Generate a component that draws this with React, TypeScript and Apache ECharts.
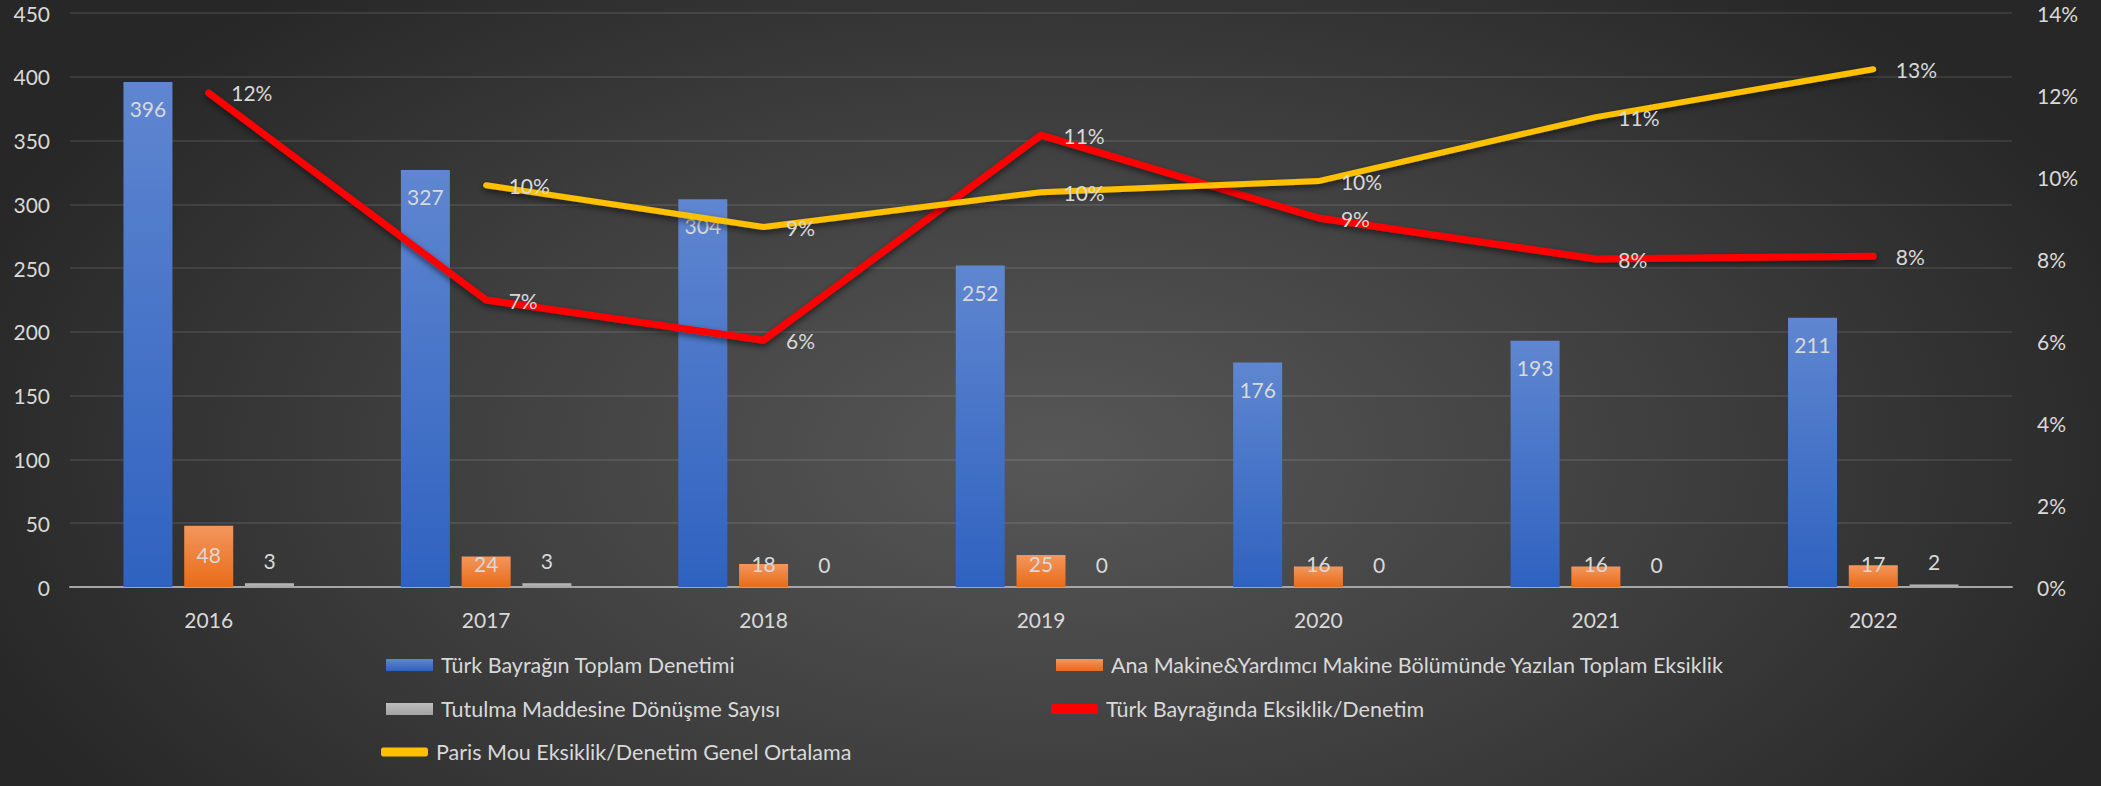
import React, { useEffect, useRef } from "react";
import * as echarts from "echarts";

const years = ["2016", "2017", "2018", "2019", "2020", "2021", "2022"];
const inspections = [396, 327, 304, 252, 176, 193, 211];
const deficiencies = [48, 24, 18, 25, 16, 16, 17];
const detentions = [3, 3, 0, 0, 0, 0, 2];
const turkRatio = [0.1205, 0.07, 0.0602, 0.1102, 0.09, 0.08, 0.0807];
const parisRatio = [null, 0.098, 0.0878, 0.0963, 0.099, 0.1146, 0.1263];
const leftTicks = { min: 0, max: 450, interval: 50 };
const rightTicks = { min: 0, max: 0.14, interval: 0.02 };

const names = [
  "Türk Bayrağın Toplam Denetimi",
  "Ana Makine&Yardımcı Makine Bölümünde Yazılan Toplam Eksiklik",
  "Tutulma Maddesine Dönüşme Sayısı",
  "Türk Bayrağında Eksiklik/Denetim",
  "Paris Mou Eksiklik/Denetim Genel Ortalama",
];

const FONT = "Lato";
const TXT = "#d9d9d9";

const vgrad = (a: string, b: string) =>
  new echarts.graphic.LinearGradient(0, 0, 0, 1, [
    { offset: 0, color: a },
    { offset: 1, color: b },
  ]);

export default function App() {
  const ref = useRef<HTMLDivElement>(null);
  useEffect(() => {
    document.body.style.margin = "0";
    const chart = echarts.init(ref.current!, null, { renderer: "svg" });
    const label = { color: TXT, fontSize: 21, fontFamily: FONT };
    const legendBase = (name: string, left: number, top: number, icon: string, h: number) => ({
      data: [name],
      left,
      top,
      icon,
      itemWidth: 47,
      itemHeight: h,
      itemGap: 0,
      textStyle: { color: TXT, fontSize: 21.5, fontFamily: FONT, padding: [0, 0, 0, 3] },
      selectedMode: false,
    });
    const pct = (p: any) => (p.value == null ? "" : Math.round(p.value * 100) + "%");
    chart.setOption({
      animation: false,
      backgroundColor: "transparent",
      textStyle: { fontFamily: FONT },
      grid: { left: 70, right: 89, top: 13, bottom: 199 },
      legend: [
        legendBase(names[0], 381, 649, "rect", 12),
        legendBase(names[1], 1051, 649, "rect", 12),
        legendBase(names[2], 381, 693, "rect", 12),
        legendBase(names[3], 1046, 693, "roundRect", 10),
        legendBase(names[4], 376, 736, "roundRect", 9),
      ],
      xAxis: {
        type: "category",
        data: years,
        axisLine: { lineStyle: { color: "#a6a6a6", width: 2 } },
        axisTick: { show: false },
        axisLabel: { color: TXT, fontSize: 21, fontFamily: FONT, margin: 22 },
      },
      yAxis: [
        {
          type: "value",
          ...leftTicks,
          axisLine: { show: false },
          axisTick: { show: false },
          axisLabel: { color: TXT, fontSize: 21, fontFamily: FONT, margin: 20 },
          splitLine: { lineStyle: { color: "rgba(255,255,255,0.12)", width: 1.5 } },
        },
        {
          type: "value",
          ...rightTicks,
          position: "right",
          axisLine: { show: false },
          axisTick: { show: false },
          splitLine: { show: false },
          axisLabel: {
            color: TXT,
            fontSize: 21,
            fontFamily: FONT,
            margin: 25,
            formatter: (v: number) => Math.round(v * 100) + "%",
          },
        },
      ],
      series: [
        {
          name: names[0],
          type: "bar",
          barWidth: 49,
          barGap: "24%",
          data: inspections,
          itemStyle: { color: vgrad("#5f86d0", "#2f62c0") },
          label: { show: true, position: "insideTop", distance: 16, ...label },
        },
        {
          name: names[1],
          type: "bar",
          barWidth: 49,
          barGap: "24%",
          data: deficiencies.map((v) =>
            v >= 40
              ? { value: v, label: { position: "insideTop", distance: 18 } }
              : { value: v, label: { position: "insideBottom", distance: 13 } }
          ),
          itemStyle: { color: vgrad("#f3965c", "#e86c18") },
          label: { show: true, ...label },
        },
        {
          name: names[2],
          type: "bar",
          barWidth: 49,
          barGap: "24%",
          data: detentions,
          itemStyle: { color: vgrad("#bdbdbd", "#a3a3a3") },
          label: { show: true, position: "top", distance: 12, ...label },
        },
        {
          name: names[3],
          type: "line",
          yAxisIndex: 1,
          data: turkRatio,
          color: "#ff0000",
          symbol: "circle",
          symbolSize: 1,
          showSymbol: true,
          itemStyle: { color: "#ff0000" },
          lineStyle: {
            color: "#ff0000",
            width: 7,
            cap: "round",
            join: "round",
            shadowColor: "rgba(0,0,0,0.55)",
            shadowBlur: 6,
            shadowOffsetY: 3,
          },
          label: { show: true, position: "right", distance: 22, ...label, formatter: pct },
        },
        {
          name: names[4],
          type: "line",
          yAxisIndex: 1,
          data: parisRatio,
          color: "#ffc000",
          symbol: "circle",
          symbolSize: 1,
          showSymbol: true,
          itemStyle: { color: "#ffc000" },
          lineStyle: {
            color: "#ffc000",
            width: 6,
            cap: "round",
            join: "round",
            shadowColor: "rgba(0,0,0,0.55)",
            shadowBlur: 6,
            shadowOffsetY: 3,
          },
          label: { show: true, position: "right", distance: 22, ...label, formatter: pct },
        },
      ],
    });
    return () => chart.dispose();
  }, []);
  return (
    <div
      ref={ref}
      style={{
        width: 2101,
        height: 786,
        background:
          "radial-gradient(ellipse 1150px 620px at 50% 58%, #575757 0%, #3e3e3e 55%, #272727 100%)",
      }}
    />
  );
}
